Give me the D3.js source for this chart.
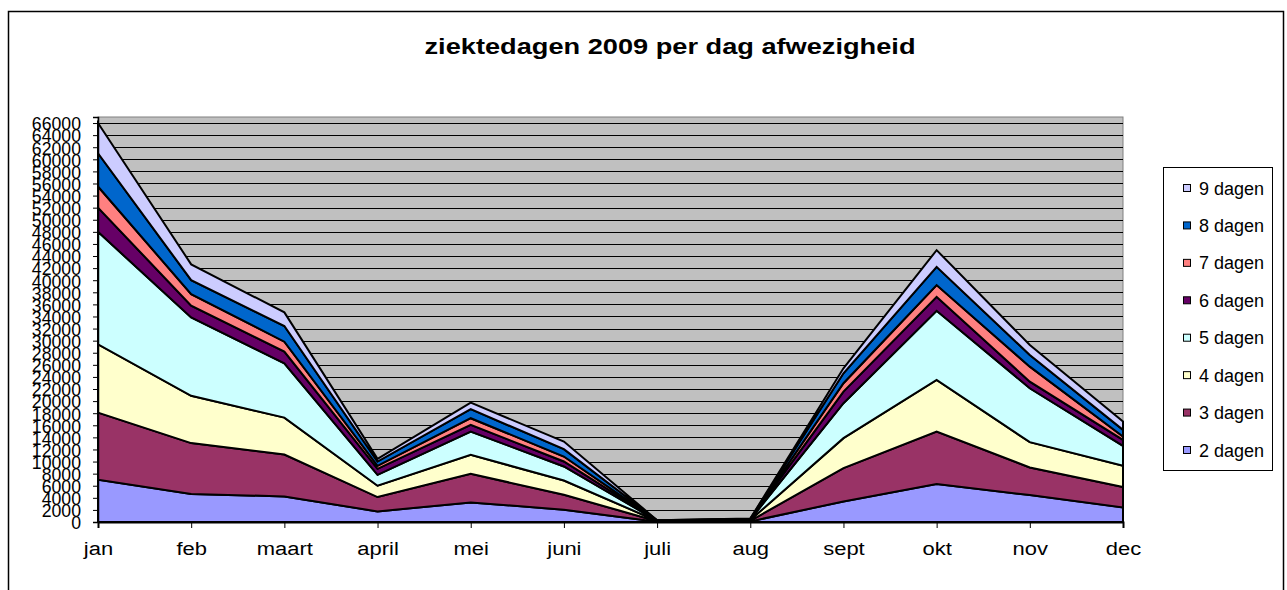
<!DOCTYPE html>
<html>
<head>
<meta charset="utf-8">
<script src="https://cdn.jsdelivr.net/npm/d3@7"></script>
<style>
  html, body { margin: 0; padding: 0; background: #fff; }
  svg { display: block; }
  text { font-family: Arial, "Liberation Sans", sans-serif; fill: #000; }
</style>
</head>
<body>
<svg id="chart" width="1287" height="590"></svg>
<script>
// ---- data ----
const months = ["jan", "feb", "maart", "april", "mei", "juni", "juli", "aug", "sept", "okt", "nov", "dec"];
const seriesNames = ["2 dagen", "3 dagen", "4 dagen", "5 dagen", "6 dagen", "7 dagen", "8 dagen", "9 dagen"];
const dagen2 = [7000, 4650, 4230, 1750, 3240, 2030, 60, 100, 3400, 6270, 4450, 2410];
const dagen3 = [11100, 8400, 6930, 2380, 4740, 2480, 60, 100, 5520, 8700, 4570, 3370];
const dagen4 = [11300, 7830, 6110, 1870, 3130, 2360, 60, 120, 4950, 8530, 4190, 3520];
const dagen5 = [18600, 12950, 8990, 1800, 3850, 2310, 40, 80, 5780, 11450, 8920, 3300];
const dagen6 = [4000, 1970, 1920, 1000, 1110, 830, 20, 40, 1920, 2310, 1090, 990];
const dagen7 = [3500, 1900, 1650, 500, 1100, 820, 20, 40, 1390, 1930, 2480, 550];
const dagen8 = [5500, 2300, 2590, 700, 1490, 1220, 20, 40, 1640, 3020, 1930, 1100];
const dagen9 = [5000, 2620, 2260, 450, 1090, 1250, 20, 40, 830, 2760, 1650, 1370];
const seriesValues = [dagen2, dagen3, dagen4, dagen5, dagen6, dagen7, dagen8, dagen9];
const seriesColors = ["#9999FF", "#993366", "#FFFFCC", "#CCFFFF", "#660066", "#FF8080", "#0066CC", "#CCCCFF"];
const yTicks = d3.range(0, 66001, 2000);
const yMax = 67000;
const title = "ziektedagen 2009 per dag afwezigheid";

// ---- build table for d3.stack ----
const table = months.map((m, i) => {
  const row = { month: m };
  seriesNames.forEach((s, k) => { row[s] = seriesValues[k][i]; });
  return row;
});

const svg = d3.select("#chart");
const plot = { left: 98, right: 1123, top: 117, bottom: 522 };

// outer border
svg.append("rect")
  .attr("x", 8.5).attr("y", 11.5).attr("width", 1275).attr("height", 600)
  .attr("fill", "#fff").attr("stroke", "#000").attr("stroke-width", 1.5);

// title
const t = svg.append("text")
  .attr("x", 670).attr("y", 54)
  .attr("text-anchor", "middle")
  .attr("font-size", 22).attr("font-weight", "bold")
  .text(title);
t.attr("textLength", 491).attr("lengthAdjust", "spacingAndGlyphs");

const x = d3.scalePoint().domain(months).range([plot.left, plot.right]);
const y = d3.scaleLinear().domain([0, yMax]).range([plot.bottom, plot.top]);

// plot area background
svg.append("rect")
  .attr("x", plot.left).attr("y", plot.top)
  .attr("width", plot.right - plot.left).attr("height", plot.bottom - plot.top)
  .attr("fill", "#C0C0C0").attr("stroke", "#808080").attr("stroke-width", 1);

// gridlines
svg.append("g").selectAll("line").data(yTicks.filter(d => d > 0)).join("line")
  .attr("x1", plot.left).attr("x2", plot.right)
  .attr("y1", d => Math.round(y(d)) + 0.5).attr("y2", d => Math.round(y(d)) + 0.5)
  .attr("stroke", "#000").attr("stroke-width", 1);

// stacked areas
const stack = d3.stack().keys(seriesNames);
const stacked = stack(table);
const area = d3.area()
  .x(d => x(d.data.month))
  .y0(d => y(d[0]))
  .y1(d => y(d[1]));

svg.append("g").selectAll("path").data(stacked).join("path")
  .attr("d", area)
  .attr("fill", (d, i) => seriesColors[i])
  .attr("stroke", "#000")
  .attr("stroke-width", 2)
  .attr("stroke-linejoin", "miter");

// y axis
const yAxis = svg.append("g")
  .attr("transform", `translate(${plot.left},0)`)
  .call(d3.axisLeft(y).tickValues(yTicks).tickFormat(d3.format("d")).tickSize(5).tickPadding(12));
yAxis.select(".domain").attr("stroke", "#000").attr("stroke-width", 1.5);
yAxis.selectAll(".tick line").attr("stroke", "#000");
yAxis.selectAll(".tick text")
  .attr("font-size", 19)
  .attr("font-family", "Arial, 'Liberation Sans', sans-serif")
  .attr("dy", "0.36em")
  .each(function() {
    const w = this.getComputedTextLength();
    d3.select(this).attr("textLength", w * 0.93).attr("lengthAdjust", "spacingAndGlyphs");
  });

// x axis
const xAxis = svg.append("g")
  .attr("transform", `translate(0,${plot.bottom})`)
  .call(d3.axisBottom(x).tickSize(6).tickPadding(16));
xAxis.select(".domain").attr("stroke", "#000").attr("stroke-width", 2);
xAxis.selectAll(".tick line").attr("stroke", "#000");
xAxis.selectAll(".tick text")
  .attr("font-size", 18)
  .attr("font-family", "Arial, 'Liberation Sans', sans-serif")
  .attr("dy", "0.6em")
  .each(function() {
    const w = this.getComputedTextLength();
    d3.select(this).attr("textLength", w * 1.22).attr("lengthAdjust", "spacingAndGlyphs");
  });

// legend
const legend = svg.append("g");
legend.append("rect")
  .attr("x", 1163.5).attr("y", 167.5).attr("width", 109).attr("height", 303)
  .attr("fill", "#fff").attr("stroke", "#000").attr("stroke-width", 1);
const legendOrder = seriesNames.map((s, i) => i).reverse();
const ly = d3.scalePoint().domain(legendOrder).range([188, 450]);
const items = legend.selectAll("g.item").data(legendOrder).join("g")
  .attr("class", "item")
  .attr("transform", i => `translate(0,${ly(i)})`);
items.append("rect")
  .attr("x", 1183.5).attr("y", -3.5).attr("width", 7).attr("height", 7)
  .attr("fill", i => seriesColors[i]).attr("stroke", "#000").attr("stroke-width", 1);
items.append("text")
  .attr("x", 1199).attr("y", 6.5)
  .attr("font-size", 18)
  .text(i => seriesNames[i]);
</script>
</body>
</html>
